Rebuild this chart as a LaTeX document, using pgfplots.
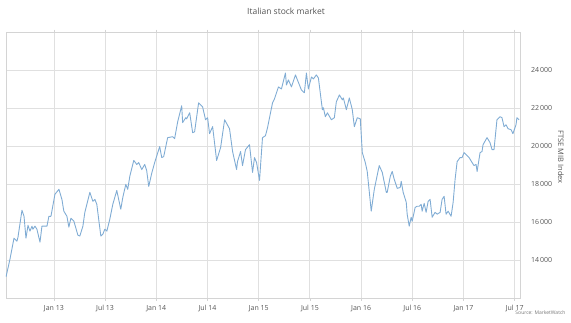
\documentclass[border=0pt]{standalone}
\usepackage{pgfplots}
\pgfplotsset{compat=1.18}
\usepackage{fontspec}
\setmainfont{Open Sans}
\definecolor{linec}{RGB}{128,172,212}
\definecolor{gridc}{RGB}{224,224,224}
\definecolor{framec}{RGB}{212,212,212}
\definecolor{txtc}{RGB}{85,85,85}
\pgfplotstableread{
t v
2012.532 13110
2012.571 14050
2012.610 15150
2012.639 14990
2012.649 15200
2012.688 16620
2012.708 16300
2012.727 15150
2012.747 15830
2012.766 15520
2012.786 15780
2012.795 15620
2012.815 15780
2012.834 15620
2012.864 14940
2012.883 15780
2012.912 15780
2012.932 15780
2012.951 16300
2012.971 16300
2013.010 17460
2013.049 17720
2013.078 17190
2013.097 16570
2013.127 16300
2013.146 15730
2013.166 16200
2013.195 16040
2013.234 15310
2013.253 15260
2013.283 15780
2013.302 16510
2013.351 17560
2013.380 17090
2013.400 17190
2013.419 16930
2013.458 15260
2013.478 15360
2013.497 15620
2013.517 15520
2013.546 16150
2013.575 16930
2013.614 17660
2013.653 16670
2013.673 17300
2013.702 17980
2013.721 17720
2013.741 18400
2013.780 19240
2013.809 19030
2013.828 19130
2013.858 18760
2013.887 19030
2013.906 18710
2013.926 17870
2013.955 18560
2013.984 19130
2014.033 19970
2014.053 19390
2014.072 19440
2014.111 20440
2014.160 20490
2014.179 20390
2014.209 21280
2014.248 22120
2014.257 21230
2014.287 21490
2014.296 21430
2014.326 21750
2014.355 20700
2014.374 20750
2014.413 22270
2014.452 22060
2014.481 21380
2014.501 21490
2014.520 20650
2014.550 21020
2014.589 19240
2014.628 19920
2014.667 21380
2014.715 20910
2014.745 19710
2014.784 18760
2014.793 19180
2014.823 19710
2014.842 18970
2014.871 19810
2014.910 20070
2014.940 18610
2014.959 19390
2014.979 19130
2015.008 18190
2015.037 20440
2015.066 20540
2015.086 20960
2015.135 22270
2015.154 22480
2015.193 23110
2015.222 23000
2015.232 23210
2015.261 23840
2015.271 23210
2015.290 23480
2015.320 23110
2015.359 23740
2015.378 23480
2015.417 22950
2015.446 22800
2015.466 23840
2015.485 23000
2015.515 23630
2015.534 23530
2015.563 23740
2015.583 23580
2015.622 21910
2015.632 22010
2015.651 21540
2015.671 21750
2015.710 21380
2015.739 21490
2015.758 22320
2015.788 22690
2015.817 22430
2015.827 22530
2015.856 21910
2015.885 22530
2015.914 21910
2015.934 21020
2015.963 21490
2015.992 21430
2016.012 19650
2016.041 19130
2016.060 18660
2016.099 16570
2016.129 17720
2016.177 18970
2016.207 18610
2016.246 17560
2016.255 17560
2016.285 18400
2016.304 18660
2016.324 18240
2016.353 17770
2016.382 17820
2016.392 18140
2016.411 17560
2016.441 17040
2016.450 16410
2016.470 15780
2016.489 16250
2016.499 16040
2016.528 16770
2016.548 16830
2016.567 16830
2016.587 16930
2016.596 16570
2016.616 16980
2016.635 16510
2016.655 17090
2016.674 17190
2016.694 16250
2016.723 16510
2016.743 16410
2016.772 16510
2016.791 17190
2016.811 17350
2016.830 16410
2016.850 16570
2016.879 16300
2016.899 17040
2016.918 18240
2016.938 19180
2016.967 19390
2016.986 19390
2017.006 19650
2017.025 19550
2017.055 19390
2017.084 19130
2017.103 18970
2017.123 19030
2017.133 18660
2017.162 19650
2017.181 19710
2017.191 20070
2017.230 20440
2017.259 20180
2017.279 19810
2017.298 19810
2017.327 21380
2017.357 21540
2017.376 21490
2017.396 21020
2017.415 21120
2017.435 20910
2017.464 20860
2017.483 20650
2017.513 21120
2017.522 21490
2017.542 21380
}\ftsemib
\begin{document}
\begin{tikzpicture}[x=1pt,y=1pt]
\useasboundingbox (0,0) rectangle (571,322);
\begin{axis}[
  at={(6pt,24pt)}, anchor=south west,
  scale only axis, width=514pt, height=266pt,
  xmin=2012.532, xmax=2017.552,
  ymin=12000, ymax=26000,
  xtick={2013,2013.5,2014,2014.5,2015,2015.5,2016,2016.5,2017,2017.5},
  xticklabels={Jan 13,Jul 13,Jan 14,Jul 14,Jan 15,Jul 15,Jan 16,Jul 16,Jan 17,Jul 17},
  ytick={14000,16000,18000,20000,22000,24000},
  scaled y ticks=false,
  yticklabel pos=right,
  /pgf/number format/fixed,
  /pgf/number format/precision=0,
  /pgf/number format/1000 sep={\,},
  /pgf/number format/assume math mode=true,
  grid=major,
  major grid style={gridc, line width=0.8pt},
  axis line style={framec, line width=0.8pt},
  tick align=outside,
  major tick length=2.5pt,
  xtick style={framec, line width=0.6pt},
  ytick style={draw=none},
  ticklabel style={font=\fontsize{7}{8}\selectfont, text=txtc},
  xticklabel style={yshift=-1pt},
  yticklabel style={xshift=5pt},
]
\addplot[linec, line width=0.9pt, line join=round] table[x=t,y=v] {\ftsemib};
\end{axis}
\node[text=txtc, font=\fontsize{8.5}{10}\selectfont] at (286,311) {Italian stock market};
\node[text=txtc, rotate=-90, font=\fontsize{7.5}{9}\selectfont] at (561,165) {FTSE MIB Index};
\node[text=txtc!80, anchor=east, font=\fontsize{5}{6}\selectfont] at (569,9) {Source: MarketWatch};
\end{tikzpicture}
\end{document}
